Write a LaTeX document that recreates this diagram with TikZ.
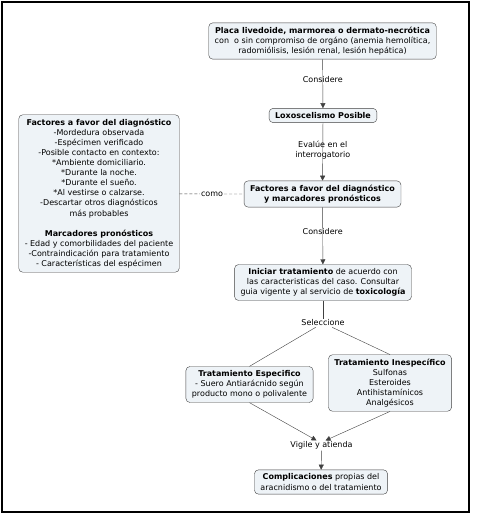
\documentclass[tikz,border=0pt]{standalone}
\usepackage{fontspec}
\setmainfont{DejaVu Sans}
\usetikzlibrary{arrows.meta}
\definecolor{conceptfill}{HTML}{EEF3F7}
\definecolor{conceptline}{HTML}{404040}
\tikzset{
  concept/.style={draw=conceptline,fill=conceptfill,rounded corners=4pt,
    align=center,font=\fontsize{8}{10.1}\selectfont,inner xsep=6pt,inner ysep=4pt},
  phrase/.style={align=center,font=\fontsize{8}{10.1}\selectfont,inner sep=1pt},
  link/.style={draw=conceptline,-{Triangle[length=5pt,width=5pt]}},
  plain/.style={draw=conceptline,-}
}
\begin{document}
\begin{tikzpicture}[x=1pt,y=-1pt]
  \useasboundingbox (0,0) rectangle (476,518);
  \draw[line width=1.3pt] (2,2) rectangle (469,512);
  % concepts
  \node[concept] (placa) at (322.5,41) {\textbf{Placa livedoide, marmorea o dermato-necrótica}\\
    con\ \ o sin compromiso de orgáno (anemia hemolítica,\\
    radomiólisis, lesión renal, lesión hepática)};
  \node[concept] (loxo) at (323,115.5) {\textbf{Loxoscelismo Posible}};
  \node[concept] (factores) at (322.5,194) {\textbf{Factores a favor del diagnóstico}\\
    \textbf{y marcadores pronósticos}};
  \node[concept] (facts) at (99,193.5) {\textbf{Factores a favor del diagnóstico}\\
    -Mordedura observada\\
    -Espécimen verificado\\
    -Posible contacto en contexto:\\
    *Ambiente domiciliario.\\
    *Durante la noche.\\
    *Durante el sueño.\\
    *Al vestirse o calzarse.\\
    -Descartar otros diagnósticos\\
    más probables\\[10.1pt]
    \textbf{Marcadores pronósticos}\\
    - Edad y comorbilidades del paciente\\
    -Contraindicación para tratamiento\\
    - Características del espécimen};
  \node[concept] (iniciar) at (323,282.5) {\textbf{Iniciar tratamiento} de acuerdo con\\
    las caracteristicas del caso. Consultar\\
    guia vigente y al servicio de \textbf{toxicología}};
  \node[concept] (especifico) at (249.5,384.5) {\textbf{Tratamiento Especifico}\\
    - Suero Antiarácnido según\\
    producto mono o polivalente};
  \node[concept] (inespecifico) at (390,383) {\textbf{Tratamiento Inespecífico}\\
    Sulfonas\\ Esteroides\\ Antihistamínicos\\ Analgésicos};
  \node[concept] (complicaciones) at (321,482) {\textbf{Complicaciones} propias del\\
    aracnidismo o del tratamiento};
  % linking phrases
  \node[phrase] (seleccione) at (323,323) {Seleccione};
  \node[phrase] (vigile) at (321.5,445.5) {Vigile y atienda};
  \node[phrase] (como) at (212,194) {como};
  % links
  \draw[link] (placa) -- node[phrase,pos=0.42] (considereA) {Considere} (loxo);
  \draw[link] (loxo) -- node[phrase,align=center,pos=0.47] (evalue) {Evalúe en el\\ interrogatorio} (factores);
  \draw[link] (factores) -- node[phrase,pos=0.42] (considereB) {Considere} (iniciar);
  \path[plain] (iniciar) -- (seleccione);
  \path[plain] (seleccione) -- (especifico.north);
  \path[plain] (seleccione) -- (inespecifico.north);
  \path[link] (especifico.south) -- ([xshift=-5pt]vigile.north);
  \path[link] (inespecifico.south) -- ([xshift=4pt]vigile.north);
  \path[link] (vigile) -- (complicaciones);
  \draw[conceptline,dash pattern=on 3pt off 2pt] (facts) -- (como) -- (factores);
\end{tikzpicture}
\end{document}
